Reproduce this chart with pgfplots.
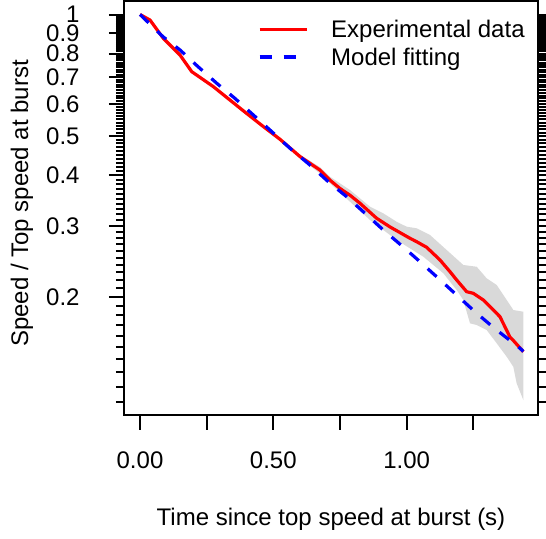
\documentclass[border=0pt]{standalone}
\usepackage{fontspec}
\setmainfont{Liberation Sans}
\usepackage{pgfplots}
\pgfplotsset{compat=1.18}
\definecolor{band}{RGB}{217,217,217}
\begin{document}
\begin{tikzpicture}
\begin{axis}[
  at={(0pt,0pt)}, anchor=south west,
  scale only axis, width=207pt, height=207pt,
  xmin=-0.06, xmax=1.4925,
  ymode=log, ymin=0.10201, ymax=1.0799,
  axis line style={line width=1pt},
  every tick/.style={black, line width=1pt},
  tick align=outside,
  major tick length=7.5pt, minor tick length=4pt,
  xtick pos=both, xticklabel pos=lower,
  ytick pos=both, yticklabel pos=left,
  xtick={0,0.25,0.5,0.75,1,1.25},
  xticklabels={0.00,,0.50,,1.00,},
  ytick={0.2,0.3,0.4,0.5,0.6,0.7,0.8,0.9,1},
  yticklabels={0.2,0.3,0.4,0.5,0.6,0.7,0.8,0.9,1},
  minor ytick={0.11,0.12,0.13,0.14,0.15,0.16,0.17,0.18,0.19,
    0.21,0.22,0.23,0.24,0.25,0.26,0.27,0.28,0.29,
    0.31,0.32,0.33,0.34,0.35,0.36,0.37,0.38,0.39,
    0.41,0.42,0.43,0.44,0.45,0.46,0.47,0.48,0.49,
    0.51,0.52,0.53,0.54,0.55,0.56,0.57,0.58,0.59,
    0.61,0.62,0.63,0.64,0.65,0.66,0.67,0.68,0.69,
    0.71,0.72,0.73,0.74,0.75,0.76,0.77,0.78,0.79,
    0.81,0.82,0.83,0.84,0.85,0.86,0.87,0.88,0.89,
    0.91,0.92,0.93,0.94,0.95,0.96,0.97,0.98,0.99},
  /pgf/number format/assume math mode=true,
  tick label style={font=\fontsize{12}{14}\selectfont},
  yticklabel style={anchor=east, inner sep=0pt, xshift=-14.5pt},
  xticklabel style={inner sep=0pt, yshift=-10.8pt},
  label style={font=\fontsize{12}{14}\selectfont},
  xlabel={Time since top speed at burst (s)},
  ylabel={Speed / Top speed at burst},
  xlabel style={at={(rel axis cs:0.5,-0.2657)}, anchor=base},
  ylabel style={at={(rel axis cs:-0.2464,0.511)}, anchor=center},
  legend style={draw=none, fill=none, at={(rel axis cs:0.3237,0.9529)},
    anchor=north west, inner sep=0pt, outer sep=0pt,
    row sep=2.8pt, column sep=11.5pt,
    nodes={inner sep=0pt, text height=8.6pt, text depth=2.5pt,
      font=\fontsize{12}{14}\selectfont},
    cells={anchor=west}},
  legend image code/.code={\draw[#1] (0pt,1.2pt) -- (23.5pt,1.2pt);},
]
% shaded band
\addplot[draw=none, fill=band, forget plot] coordinates {
  (0,1.0) (0.0375,0.971) (0.0875,0.876) (0.15,0.797) (0.194,0.725)
  (0.275,0.666) (0.3375,0.617) (0.40,0.572) (0.4625,0.531)
  (0.525,0.496) (0.60,0.450) (0.675,0.419) (0.7125,0.3968)
  (0.7875,0.3678) (0.8625,0.3344) (0.9124,0.3220) (0.9625,0.3069)
  (1.0,0.2984) (1.0376,0.2957) (1.0875,0.2846) (1.15,0.2613)
  (1.2124,0.2399) (1.2626,0.2375) (1.3,0.2223) (1.3376,0.2140)
  (1.3875,0.1910) (1.40,0.1856) (1.4375,0.1838)
  (1.4375,0.1111) (1.4124,0.1222) (1.40,0.1343) (1.375,0.1422)
  (1.3376,0.1535) (1.3,0.1656) (1.2626,0.1704) (1.2375,0.1720)
  (1.2124,0.1965) (1.1876,0.2080) (1.1375,0.2288) (1.0624,0.2515)
  (0.9625,0.2765) (0.8625,0.3100) (0.7875,0.3440) (0.7125,0.3822)
  (0.675,0.4042) (0.60,0.4400) (0.525,0.4861)
  (0.4625,0.525) (0.40,0.566) (0.3375,0.611) (0.275,0.660)
  (0.194,0.719) (0.15,0.791) (0.0875,0.870) (0.0375,0.967) (0,1.0)
} -- cycle;
% experimental data
\addplot[red, line width=1.6pt, line join=round] coordinates {
  (0,1.0) (0.0375,0.969) (0.0875,0.873) (0.15,0.794) (0.194,0.722)
  (0.275,0.663) (0.3375,0.614) (0.40,0.569) (0.4625,0.528)
  (0.525,0.491) (0.60,0.445) (0.675,0.412) (0.7125,0.389)
  (0.75,0.371) (0.7875,0.357) (0.825,0.341) (0.8876,0.313)
  (0.9375,0.298) (1.0125,0.2793) (1.0376,0.2739) (1.075,0.2653)
  (1.125,0.2468) (1.1625,0.2309) (1.1876,0.2202) (1.225,0.2060)
  (1.25,0.2041) (1.2875,0.1965) (1.325,0.1856) (1.35,0.1786)
  (1.3875,0.1590) (1.40,0.1560) (1.4375,0.1463)
};
\addlegendentry{Experimental data}
% model fitting
\addplot[blue, line width=1.6pt, dash pattern=on 6pt off 6pt] coordinates {
  (0,1.0) (0.0863,0.881) (0.15,0.817) (0.2175,0.743) (0.2876,0.676)
  (0.356,0.620) (0.425,0.564) (0.494,0.513) (0.5625,0.4665)
  (0.6375,0.424) (0.706,0.3857) (0.775,0.354) (0.844,0.322)
  (0.9124,0.2928) (0.981,0.268) (1.05,0.2444) (1.119,0.2223)
  (1.1876,0.2021) (1.256,0.1838) (1.325,0.1681) (1.425,0.1492)
  (1.4375,0.1466)
};
\addlegendentry{Model fitting}
\end{axis}
\pgfresetboundingbox
\useasboundingbox (-62pt,-61.5pt) rectangle (211pt,207.5pt);
\end{tikzpicture}
\end{document}
